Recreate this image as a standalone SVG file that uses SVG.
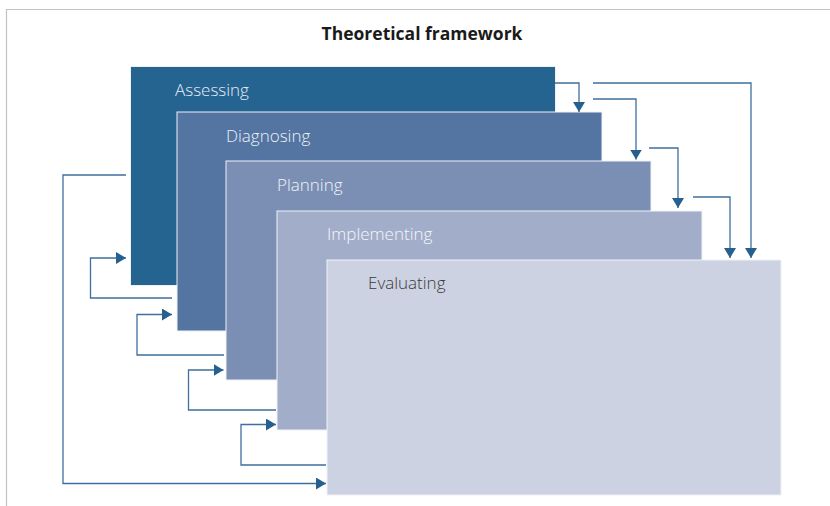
<svg xmlns="http://www.w3.org/2000/svg" width="830" height="506" viewBox="0 0 830 506">
<defs>
<style>
.frame{fill:none;stroke:#c3c3c3;stroke-width:1.2}
.box{stroke:#eef1f6;stroke-width:1}
.lbl{font-family:"Open Sans","Liberation Sans",sans-serif;font-size:17px;font-weight:300}
.title{font-family:"Open Sans","Liberation Sans",sans-serif;font-size:17.5px;font-weight:700;fill:#1a1a1a}
.con{fill:none;stroke:#3f6f9f;stroke-width:1.3}
</style>
<marker id="ah" viewBox="0 0 10 12" refX="10" refY="6" markerWidth="10" markerHeight="12" markerUnits="userSpaceOnUse" orient="auto">
<path d="M0,0 L10,6 L0,12 Z" fill="#27608f"/>
</marker>
</defs>
<rect width="830" height="506" fill="#ffffff"/>
<path class="frame" d="M6.5,506 V9.5 H830"/>
<text class="title" x="422" y="39.5" text-anchor="middle">Theoretical framework</text>

<g id="assessing">
<rect class="box" x="130.5" y="66.5" width="425" height="219" fill="#256391"/>
<text class="lbl" x="175" y="96" fill="#e8edf4">Assessing</text>
</g>
<g id="diagnosing">
<rect class="box" x="177" y="112" width="425" height="219" fill="#5475a2"/>
<text class="lbl" x="226" y="142" fill="#eef1f6">Diagnosing</text>
</g>
<g id="planning">
<rect class="box" x="226" y="161" width="425" height="219" fill="#7b8fb5"/>
<text class="lbl" x="277" y="191" fill="#f2f4f8">Planning</text>
</g>
<g id="implementing">
<rect class="box" x="277" y="211" width="425" height="219" fill="#a2aec9"/>
<text class="lbl" x="327" y="240" fill="#f4f6fa">Implementing</text>
</g>
<g id="evaluating">
<rect class="box" x="327" y="260" width="454" height="235" fill="#cdd2e2"/>
<text class="lbl" x="368" y="289" fill="#3a3a3a">Evaluating</text>
</g>

<g id="connectors">
<path class="con" marker-end="url(#ah)" d="M555,83 H579 V112"/>
<path class="con" marker-end="url(#ah)" d="M593,83 H751 V258"/>
<path class="con" marker-end="url(#ah)" d="M593,99 H636 V159.5"/>
<path class="con" marker-end="url(#ah)" d="M649,148 H678 V208"/>
<path class="con" marker-end="url(#ah)" d="M693,197 H730 V258"/>
<path class="con" marker-end="url(#ah)" d="M126,175 H63 V483.5 H326"/>
<path class="con" marker-end="url(#ah)" d="M172,298 H90.5 V258 H126"/>
<path class="con" marker-end="url(#ah)" d="M224,355 H137 V314.5 H172"/>
<path class="con" marker-end="url(#ah)" d="M276,410 H188.5 V370 H223.5"/>
<path class="con" marker-end="url(#ah)" d="M326,465 H241 V424.5 H276"/>
</g>
</svg>
